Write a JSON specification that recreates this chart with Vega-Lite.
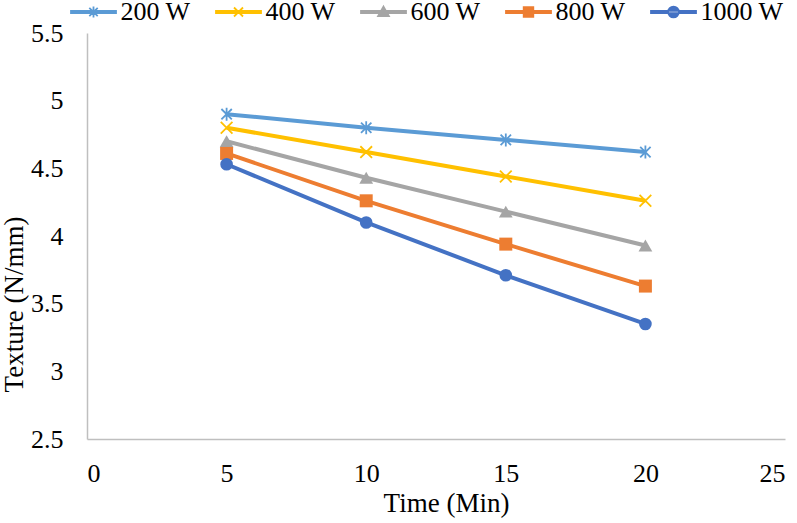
{
  "$schema": "https://vega.github.io/schema/vega-lite/v6.json",
  "width": 698,
  "height": 406,
  "autosize": "none",
  "padding": {"left": 87, "top": 33, "right": 12, "bottom": 84},
  "background": "white",
  "config": {
    "font": "Liberation Serif",
    "view": {"stroke": null},
    "axis": {
      "grid": false,
      "ticks": false,
      "domainColor": "#BFBFBF",
      "domainWidth": 1.5,
      "labelFont": "Liberation Serif",
      "labelFontSize": 26,
      "labelColor": "#000000",
      "titleFont": "Liberation Serif",
      "titleFontSize": 27,
      "titleFontWeight": "normal",
      "titleColor": "#000000"
    },
    "legend": {
      "labelFont": "Liberation Serif",
      "labelFontSize": 26,
      "labelColor": "#000000"
    }
  },
  "data": {
    "values": [
      {"time": 5, "texture": 4.90, "power": "200 W"},
      {"time": 10, "texture": 4.80, "power": "200 W"},
      {"time": 15, "texture": 4.71, "power": "200 W"},
      {"time": 20, "texture": 4.62, "power": "200 W"},
      {"time": 5, "texture": 4.80, "power": "400 W"},
      {"time": 10, "texture": 4.62, "power": "400 W"},
      {"time": 15, "texture": 4.44, "power": "400 W"},
      {"time": 20, "texture": 4.26, "power": "400 W"},
      {"time": 5, "texture": 4.70, "power": "600 W"},
      {"time": 10, "texture": 4.43, "power": "600 W"},
      {"time": 15, "texture": 4.18, "power": "600 W"},
      {"time": 20, "texture": 3.93, "power": "600 W"},
      {"time": 5, "texture": 4.61, "power": "800 W"},
      {"time": 10, "texture": 4.26, "power": "800 W"},
      {"time": 15, "texture": 3.94, "power": "800 W"},
      {"time": 20, "texture": 3.63, "power": "800 W"},
      {"time": 5, "texture": 4.53, "power": "1000 W"},
      {"time": 10, "texture": 4.10, "power": "1000 W"},
      {"time": 15, "texture": 3.71, "power": "1000 W"},
      {"time": 20, "texture": 3.35, "power": "1000 W"}
    ]
  },
  "encoding": {
    "x": {
      "field": "time",
      "type": "quantitative",
      "title": "Time (Min)",
      "scale": {"domain": [0, 25], "nice": false, "zero": false},
      "axis": {"values": [0, 5, 10, 15, 20, 25], "labelFont": "Liberation Serif", "labelPadding": 21, "titlePadding": 4, "titleX": 359}
    },
    "y": {
      "field": "texture",
      "type": "quantitative",
      "title": "Texture (N/mm)",
      "scale": {"domain": [2.5, 5.5], "nice": false, "zero": false},
      "axis": {"values": [2.5, 3, 3.5, 4, 4.5, 5, 5.5], "format": "~g", "labelFont": "Liberation Serif", "labelPadding": 24, "titleX": -86, "titleY": 271, "titleBaseline": "top"}
    },
    "color": {
      "field": "power",
      "type": "nominal",
      "sort": ["200 W", "400 W", "600 W", "800 W", "1000 W"],
      "scale": {
        "domain": ["200 W", "400 W", "600 W", "800 W", "1000 W"],
        "range": ["#5B9BD5", "#FFC000", "#A5A5A5", "#ED7D31", "#4472C4"]
      },
      "legend": {
        "title": null,
        "orient": "none",
        "direction": "horizontal",
        "legendX": -23,
        "legendY": -34,
        "columns": 5,
        "gridAlign": "all",
        "columnPadding": 5,
        "symbolSize": 144,
        "symbolOffset": 16.5,
        "labelOffset": 14,
        "labelFont": "Liberation Serif",
        "labelFontSize": 26,
        "encode": {
          "symbols": {
            "update": {
              "shape": {
                "signal": "datum.value === '200 W' ? 'M-3.75,-0.18L3.75,-0.18L3.75,0.18L-3.75,0.18ZM0,-0.9L0,0.9M-0.7,-0.7L0.7,0.7M-0.7,0.7L0.7,-0.7' : datum.value === '400 W' ? 'M-3.75,-0.18L3.75,-0.18L3.75,0.18L-3.75,0.18ZM-0.75,-0.75L0.75,0.75M-0.75,0.75L0.75,-0.75' : datum.value === '600 W' ? 'M-3.75,-0.18L3.75,-0.18L3.75,0.18L-3.75,0.18ZM0,-0.9L0.9,0.7L-0.9,0.7Z' : datum.value === '800 W' ? 'M-3.75,-0.18L3.75,-0.18L3.75,0.18L-3.75,0.18ZM-0.8,-0.8L0.8,-0.8L0.8,0.8L-0.8,0.8Z' : 'M-3.75,-0.18L3.75,-0.18L3.75,0.18L-3.75,0.18ZM-0.9,0A0.9,0.9 0 1,0 0.9,0A0.9,0.9 0 1,0 -0.9,0Z'"
              },
              "fill": {"scale": "color", "field": "value"},
              "stroke": {"scale": "color", "field": "value"},
              "strokeWidth": {"value": 1.8},
              "opacity": {"value": 1}
            }
          }
        }
      }
    }
  },
  "layer": [
    {
      "mark": {"type": "line", "strokeWidth": 4},
      "encoding": {}
    },
    {
      "transform": [{"filter": "datum.power === '200 W'"}],
      "mark": {"type": "point", "filled": false, "opacity": 1, "strokeWidth": 1.8, "size": 169,
               "shape": "M0,-1L0,1M-0.8,-0.8L0.8,0.8M-0.8,0.8L0.8,-0.8"}
    },
    {
      "transform": [{"filter": "datum.power === '400 W'"}],
      "mark": {"type": "point", "filled": false, "opacity": 1, "strokeWidth": 1.8, "size": 169,
               "shape": "M-0.9,-0.9L0.9,0.9M-0.9,0.9L0.9,-0.9"}
    },
    {
      "transform": [{"filter": "datum.power === '600 W'"}],
      "mark": {"type": "point", "filled": true, "opacity": 1, "size": 190, "shape": "triangle-up"}
    },
    {
      "transform": [{"filter": "datum.power === '800 W'"}],
      "mark": {"type": "point", "filled": true, "opacity": 1, "size": 169, "shape": "square"}
    },
    {
      "transform": [{"filter": "datum.power === '1000 W'"}],
      "mark": {"type": "point", "filled": true, "opacity": 1, "size": 160, "shape": "circle"}
    }
  ]
}
